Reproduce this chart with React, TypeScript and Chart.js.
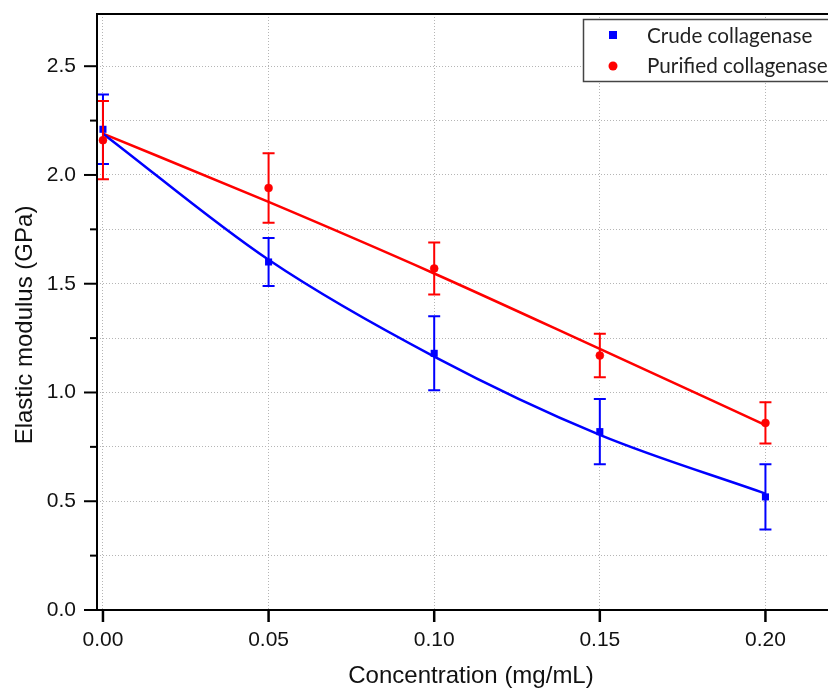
import React, { useEffect, useRef } from 'react';
import { Chart, registerables } from 'chart.js';

Chart.register(...registerables);

// ---- data ----
const CONCENTRATIONS = [0, 0.05, 0.1, 0.15, 0.2];
const CRUDE_MEAN = [2.21, 1.6, 1.18, 0.82, 0.52];
const CRUDE_ERR = [0.16, 0.11, 0.17, 0.15, 0.15];
const PURIFIED_MEAN = [2.16, 1.94, 1.57, 1.17, 0.86];
const PURIFIED_ERR = [0.18, 0.16, 0.12, 0.1, 0.095];
const CRUDE_FIT = [2.19, 1.61, 1.165, 0.805, 0.535];
const PURIFIED_FIT = [2.19, 1.876, 1.547, 1.2, 0.85];
const X_TICKS = [0, 0.05, 0.1, 0.15, 0.2];
const Y_TICKS = [0, 0.25, 0.5, 0.75, 1.0, 1.25, 1.5, 1.75, 2.0, 2.25, 2.5];
const Y_LABELED = [0, 0.5, 1.0, 1.5, 2.0, 2.5];
const SERIES_NAMES = ['Crude collagenase', 'Purified collagenase'];
const X_TITLE = 'Concentration (mg/mL)';
const Y_TITLE = 'Elastic modulus (GPa)';

const BLUE = '#0000ff';
const RED = '#ff0000';
const AXIS_FONT = '"Liberation Sans", Arial, sans-serif';

const isLabeled = (v: number) => Y_LABELED.some((l) => Math.abs(l - v) < 1e-6);

const errorBarPlugin = {
  id: 'errorBars',
  afterDatasetsDraw(chart: any) {
    const ctx = chart.ctx;
    const xs = chart.scales.x;
    const ys = chart.scales.y;
    const groups = [
      { mean: CRUDE_MEAN, err: CRUDE_ERR, color: BLUE },
      { mean: PURIFIED_MEAN, err: PURIFIED_ERR, color: RED },
    ];
    ctx.save();
    ctx.lineWidth = 2;
    groups.forEach((g) => {
      ctx.strokeStyle = g.color;
      CONCENTRATIONS.forEach((c, i) => {
        const px = xs.getPixelForValue(c);
        const pt = ys.getPixelForValue(g.mean[i] + g.err[i]);
        const pb = ys.getPixelForValue(g.mean[i] - g.err[i]);
        ctx.beginPath();
        ctx.moveTo(px, pt);
        ctx.lineTo(px, pb);
        ctx.moveTo(px - 6, pt);
        ctx.lineTo(px + 6, pt);
        ctx.moveTo(px - 6, pb);
        ctx.lineTo(px + 6, pb);
        ctx.stroke();
      });
    });
    ctx.restore();
  },
};

const framePlugin = {
  id: 'frame',
  afterDraw(chart: any) {
    const ctx = chart.ctx;
    const { left, top, right, bottom } = chart.chartArea;
    const xs = chart.scales.x;
    const ys = chart.scales.y;
    ctx.save();
    ctx.strokeStyle = '#000';
    ctx.lineWidth = 2;
    ctx.beginPath();
    ctx.moveTo(left - 1, top);
    ctx.lineTo(right + 10, top);
    ctx.moveTo(left, top);
    ctx.lineTo(left, bottom);
    ctx.moveTo(left - 1, bottom);
    ctx.lineTo(right + 10, bottom);
    ctx.stroke();
    // y ticks
    ys.ticks.forEach((t: any) => {
      const py = ys.getPixelForValue(t.value);
      const len = isLabeled(t.value) ? 13 : 7;
      ctx.beginPath();
      ctx.moveTo(left - len, py);
      ctx.lineTo(left, py);
      ctx.stroke();
    });
    // x ticks
    ctx.lineWidth = 2.5;
    xs.ticks.forEach((t: any) => {
      const px = xs.getPixelForValue(t.value);
      ctx.beginPath();
      ctx.moveTo(px, bottom);
      ctx.lineTo(px, bottom + 12);
      ctx.stroke();
    });
    // axis titles
    ctx.fillStyle = '#111';
    ctx.font = `24px ${AXIS_FONT}`;
    ctx.textAlign = 'center';
    ctx.textBaseline = 'middle';
    ctx.fillText(X_TITLE, 471, 676);
    ctx.save();
    ctx.translate(25, 325);
    ctx.rotate(-Math.PI / 2);
    ctx.fillText(Y_TITLE, 0, 0);
    ctx.restore();
    // legend
    ctx.lineWidth = 1.5;
    ctx.strokeStyle = '#444';
    ctx.fillStyle = '#fff';
    ctx.fillRect(583, 19, 300, 63);
    ctx.strokeRect(583.5, 19.5, 300, 62);
    ctx.fillStyle = BLUE;
    ctx.fillRect(609, 31, 8, 8);
    ctx.fillStyle = RED;
    ctx.beginPath();
    ctx.arc(613, 66, 4.5, 0, Math.PI * 2);
    ctx.fill();
    ctx.fillStyle = '#222';
    ctx.font = '20.7px Lato, "Open Sans", sans-serif';
    ctx.textAlign = 'left';
    ctx.textBaseline = 'middle';
    ctx.fillText(SERIES_NAMES[0], 647, 36);
    ctx.fillText(SERIES_NAMES[1], 647, 66);
    ctx.restore();
  },
};

export default function App() {
  const canvasRef = useRef<HTMLCanvasElement | null>(null);

  useEffect(() => {
    document.body.style.margin = '0';
    document.body.style.background = '#fff';
    const canvas = canvasRef.current;
    if (!canvas) return;
    const toPts = (ys: number[]) => CONCENTRATIONS.map((x, i) => ({ x, y: ys[i] }));
    const chart = new Chart(canvas, {
      type: 'scatter',
      data: {
        datasets: [
          {
            label: SERIES_NAMES[0],
            data: toPts(CRUDE_MEAN),
            pointStyle: 'rect',
            pointRadius: 5,
            backgroundColor: BLUE,
            borderColor: BLUE,
            borderWidth: 0,
            showLine: false,
          },
          {
            label: SERIES_NAMES[1],
            data: toPts(PURIFIED_MEAN),
            pointStyle: 'circle',
            pointRadius: 4,
            backgroundColor: RED,
            borderColor: RED,
            borderWidth: 0.5,
            showLine: false,
          },
          {
            label: 'Crude fit',
            data: toPts(CRUDE_FIT),
            showLine: true,
            pointRadius: 0,
            borderColor: BLUE,
            borderWidth: 2.5,
            cubicInterpolationMode: 'monotone',
          },
          {
            label: 'Purified fit',
            data: toPts(PURIFIED_FIT),
            showLine: true,
            pointRadius: 0,
            borderColor: RED,
            borderWidth: 2.5,
            cubicInterpolationMode: 'monotone',
          },
        ],
      } as any,
      options: {
        responsive: false,
        animation: false,
        devicePixelRatio: 1,
        layout: { padding: { left: 0, top: 14, right: 0, bottom: 0 } },
        plugins: {
          legend: { display: false },
          tooltip: { enabled: false },
          title: { display: false },
        },
        scales: {
          x: {
            type: 'linear',
            min: -0.0018,
            max: 0.221,
            afterBuildTicks: (scale: any) => {
              scale.ticks = X_TICKS.map((v) => ({ value: v }));
            },
            afterFit: (scale: any) => {
              scale.height = 83;
              scale.paddingLeft = 0;
              scale.paddingRight = 0;
            },
            ticks: {
              autoSkip: false,
              maxRotation: 0,
              padding: 18,
              color: '#111',
              font: { family: AXIS_FONT, size: 21 },
              callback: (v: any) => Number(v).toFixed(2),
            },
            grid: {
              drawTicks: false,
              color: '#b5b5b5',
              lineWidth: 1,
            },
            border: { display: false, dash: [1, 2] },
          },
          y: {
            type: 'linear',
            min: 0,
            max: 2.74,
            afterBuildTicks: (scale: any) => {
              scale.ticks = Y_TICKS.map((v) => ({ value: v }));
            },
            afterFit: (scale: any) => {
              scale.width = 97;
              scale.paddingTop = 0;
              scale.paddingBottom = 0;
            },
            ticks: {
              autoSkip: false,
              padding: 21,
              color: '#111',
              font: { family: AXIS_FONT, size: 21 },
              callback: (v: any) => (isLabeled(Number(v)) ? Number(v).toFixed(1) : ''),
            },
            grid: {
              drawTicks: false,
              color: '#b5b5b5',
              lineWidth: 1,
            },
            border: { display: false, dash: [1, 2] },
          },
        },
      } as any,
      plugins: [errorBarPlugin, framePlugin],
    });
    return () => chart.destroy();
  }, []);

  return (
    <div style={{ width: 828, height: 693, overflow: 'hidden', position: 'relative', background: '#fff' }}>
      <canvas ref={canvasRef} width={840} height={693} style={{ width: 840, height: 693, display: 'block' }} />
    </div>
  );
}
